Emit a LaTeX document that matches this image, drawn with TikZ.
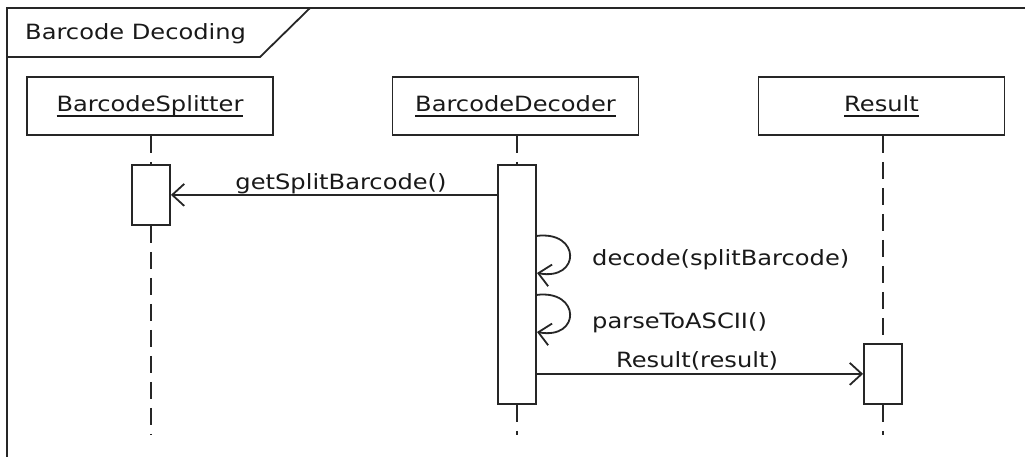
\documentclass[tikz,border=0pt]{standalone}
\usepackage{fontspec}
\setmainfont[FakeStretch=1.15]{DejaVu Sans}
\usetikzlibrary{arrows.meta}
% underline at a fixed distance below the baseline
\newcommand\headtext[1]{\setbox0\hbox{#1}\rlap{\vrule width\wd0 height -3.6pt depth 5.4pt}#1}
\tikzset{
  ink/.style={draw=black!85, line width=1.8pt},
  lbl/.style={font=\fontsize{21}{25}\selectfont, text=black!90, inner sep=0pt},
  objbox/.style={ink, fill=white, lbl, minimum width=246pt, minimum height=58pt},
  actbox/.style={ink, fill=white, inner sep=0pt, minimum width=38pt},
  lifeline/.style={ink, dash pattern=on 17pt off 9pt},
  msg/.style={ink, -{Straight Barb[length=12pt,width=22pt,line width=1.8pt]}},
}
\begin{document}
\begin{tikzpicture}[x=1pt, y=-1pt]
\useasboundingbox (0,0) rectangle (1025,457);

% frame with its name tab
\draw[ink] (1030,8) -- (7,8) -- (7,462);
\draw[ink] (7,57) -- (260,57) -- (310,8);
\node[lbl, anchor=base west] (title) at (25,40) {Barcode Decoding};

% objects
\node[objbox] (spl) at (150,106) {\headtext{BarcodeSplitter}};
\node[objbox] (dec) at (515.5,106) {\headtext{BarcodeDecoder}};
\node[objbox] (res) at (881.5,106) {\headtext{Result}};

% activations
\node[actbox, minimum height=60pt, anchor=north] (splAct) at (151,164) {};
\node[actbox, minimum height=239pt, anchor=north] (decAct) at (517,164) {};
\node[actbox, minimum height=60pt, anchor=north] (resAct) at (883,343) {};

% ends of the lifelines
\coordinate (splEnd) at (151,435);
\coordinate (decEnd) at (517,435);
\coordinate (resEnd) at (883,435);

% lifelines
\draw[lifeline] (spl.south -| splAct.north) -- (splAct.north);
\draw[lifeline] (splAct.south) -- (splEnd);
\draw[lifeline] (dec.south -| decAct.north) -- (decAct.north);
\draw[lifeline] (decAct.south) -- (decEnd);
\draw[lifeline] (res.south -| resAct.north) -- (resAct.north);
\draw[lifeline] (resAct.south) -- (resEnd);

% redraw activations above the dashes
\node[actbox, minimum height=60pt, anchor=north] at (151,164) {};
\node[actbox, minimum height=239pt, anchor=north] at (517,164) {};
\node[actbox, minimum height=60pt, anchor=north] at (883,343) {};

% getSplitBarcode()
\draw[msg] (decAct.west |- splAct.east) -- (splAct.east);
\node[lbl, anchor=base] (m1) at (341,190) {getSplitBarcode()};

% self calls
\coordinate (s1a) at (536,236);
\coordinate (s1b) at (537,273);
\coordinate (s2a) at (536,295);
\coordinate (s2b) at (537,332);
\draw[msg] (s1a) .. controls (581,230) and (581,281) .. (s1b);
\node[lbl, anchor=base west] (m2) at (592,265) {decode(splitBarcode)};
\draw[msg] (s2a) .. controls (581,289) and (581,340) .. (s2b);
\node[lbl, anchor=base west] (m3) at (592,328) {parseToASCII()};

% Result(result)
\draw[msg] (decAct.east |- resAct.west) -- (resAct.west);
\node[lbl, anchor=base] (m4) at (697,367) {Result(result)};
\end{tikzpicture}
\end{document}
